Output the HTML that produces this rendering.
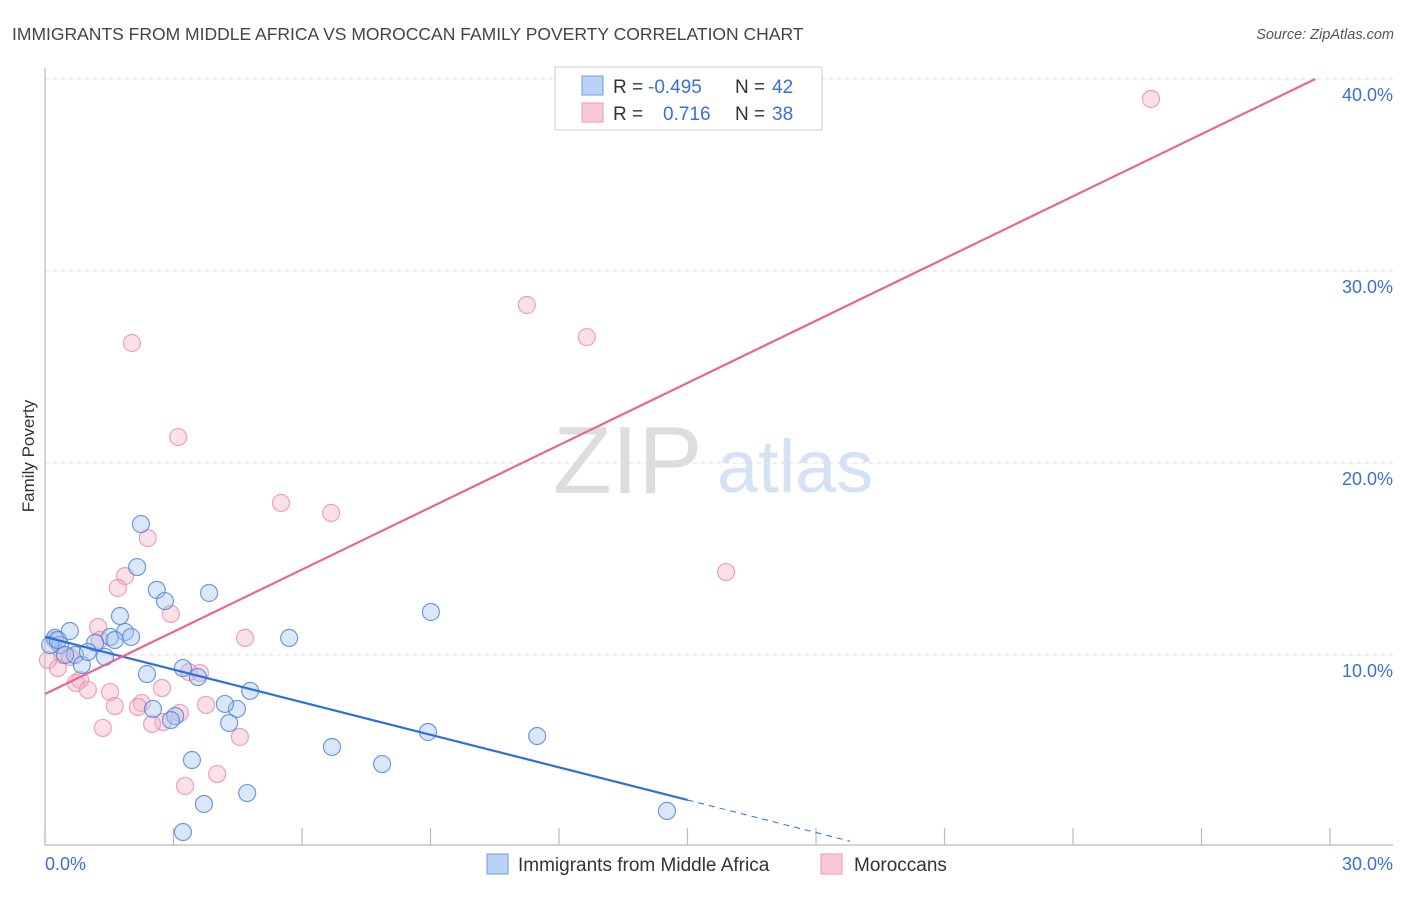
<!DOCTYPE html>
<html><head><meta charset="utf-8"><style>
body{margin:0;background:#fff;font-family:"Liberation Sans",sans-serif;}
svg text{font-family:"Liberation Sans",sans-serif;}
</style></head><body>
<svg width="1406" height="892" viewBox="0 0 1406 892">
<text x="12" y="40" font-size="17.5" fill="#444">IMMIGRANTS FROM MIDDLE AFRICA VS MOROCCAN FAMILY POVERTY CORRELATION CHART</text>
<text x="1394" y="39" font-size="14.5" fill="#555" font-style="italic" text-anchor="end">Source: ZipAtlas.com</text>
<g>
<text x="553" y="493" font-size="96" fill="#ddd" font-family="Liberation Serif,serif">ZIP</text>
<text x="717" y="492" font-size="74" fill="#d5e2f5">atlas</text>
</g>
<g id="grid"></g>
<line x1="45" y1="68" x2="45" y2="845" stroke="#bbb" stroke-width="1.2"/>
<line x1="45" y1="845" x2="1393" y2="845" stroke="#bbb" stroke-width="1.2"/>
<g id="xticks"></g>
<text x="45" y="870" font-size="18" fill="#3a6fd8">0.0%</text>
<text x="1393" y="870" font-size="18" fill="#3a6fd8" text-anchor="end">30.0%</text>
<text transform="translate(34,456) rotate(-90)" font-size="17" fill="#333" text-anchor="middle">Family Poverty</text>
<g id="points"></g>
<g id="lines"></g>
<g>
<rect x="555" y="67" width="267" height="63" fill="#fff" stroke="#ccc"/>
<rect x="582" y="76" width="21" height="19" fill="#b9d2f5" stroke="#6f9de0"/>
<text x="613" y="93" font-size="19" fill="#333">R = </text>
<text x="648" y="93" font-size="19" fill="#3a6fd8">-0.495</text>
<text x="735" y="93" font-size="19" fill="#333">N = </text>
<text x="772" y="93" font-size="19" fill="#3a6fd8">42</text>
<rect x="582" y="103" width="21" height="19" fill="#f9c8d6" stroke="#ea9ab2"/>
<text x="613" y="120" font-size="19" fill="#333">R = </text>
<text x="663" y="120" font-size="19" fill="#3a6fd8">0.716</text>
<text x="735" y="120" font-size="19" fill="#333">N = </text>
<text x="772" y="120" font-size="19" fill="#3a6fd8">38</text>
</g>
<g>
<rect x="487" y="854" width="21" height="20" fill="#b9d2f5" stroke="#6f9de0"/>
<text x="518" y="871" font-size="19" fill="#333">Immigrants from Middle Africa</text>
<rect x="821" y="854" width="21" height="20" fill="#f9c8d6" stroke="#ea9ab2"/>
<text x="854" y="871" font-size="19" fill="#333">Moroccans</text>
</g>
</svg>
<script>
const yTicks=[10,20,30,40];
const yTickLabels=["10.0%","20.0%","30.0%","40.0%"];
const xTickVals=[0,3,6,9,12,15,18,21,24,27,30];
const blueX=[2.24,2.15,2.61,2.80,3.83,1.75,1.52,1.87,2.01,0.58,0.23,0.35,0.70,1.17,1.40,0.86,1.00,2.38,3.22,3.57,5.70,9.01,4.79,4.48,4.20,2.52,3.04,2.94,4.30,6.70,8.94,11.49,7.87,3.43,4.72,3.71,3.22,14.52,0.12,0.30,0.47,1.63];
const blueY=[16.82,14.58,13.39,12.81,13.23,12.03,10.94,11.20,10.94,11.25,10.89,10.52,10.00,10.63,9.90,9.48,10.16,9.01,9.32,8.85,10.89,12.24,8.13,7.19,7.45,7.19,6.82,6.61,6.46,5.21,5.99,5.78,4.32,4.53,2.81,2.24,0.78,1.88,10.52,10.78,10.00,10.78];
const pinkX=[25.82,11.25,12.65,2.03,3.11,5.51,6.68,2.40,1.87,1.70,2.94,15.90,1.24,4.67,1.28,0.23,0.40,0.58,0.30,0.82,0.72,1.00,1.52,1.63,2.26,2.73,3.36,3.62,3.76,3.15,2.17,2.76,2.50,4.55,1.35,4.02,3.27,0.07];
const pinkY=[38.96,28.23,26.56,26.25,21.35,17.92,17.40,16.09,14.11,13.49,12.14,14.32,11.46,10.89,10.78,10.78,10.00,9.90,9.32,8.70,8.54,8.18,8.07,7.34,7.50,8.28,9.11,9.06,7.40,6.98,7.29,6.51,6.41,5.73,6.20,3.80,3.18,9.74];
const blueTrend=[10.94,-0.566];
const pinkTrend=[7.97,1.08];
const NS="http://www.w3.org/2000/svg";
function sx(v){return 45+v*(1285/30);}
function sy(v){return 847-v*19.2;}
function mk(t,a,p){const e=document.createElementNS(NS,t);for(const k in a)e.setAttribute(k,a[k]);p.appendChild(e);return e;}
const grid=document.getElementById('grid');
yTicks.forEach((v,i)=>{
 const l=mk('line',{x1:45,x2:1393,y1:sy(v),y2:sy(v),stroke:'#ddd','stroke-dasharray':'4,4'},grid);
 
 
 const t=mk('text',{x:1393,y:sy(v)+22,'font-size':18,fill:'#3a6fd8','text-anchor':'end'},grid);
 t.textContent=yTickLabels[i];
 
 
});
const xt=document.getElementById('xticks');
xTickVals.forEach(v=>{
 const l=mk('line',{x1:sx(v),x2:sx(v),y1:828,y2:845,stroke:'#bbb','stroke-width':1.2},xt);
 
 
});
const pts=document.getElementById('points');
pinkX.forEach((x,i)=>{
 const c=mk('circle',{cx:sx(x),cy:sy(pinkY[i]),r:8.5,fill:'rgba(246,178,198,0.4)',stroke:'rgba(232,140,170,0.8)','stroke-width':1.2},pts);
 
 
});
blueX.forEach((x,i)=>{
 const c=mk('circle',{cx:sx(x),cy:sy(blueY[i]),r:8.5,fill:'rgba(160,196,240,0.4)',stroke:'rgba(80,130,215,0.8)','stroke-width':1.2},pts);
 
 
});
const lg=document.getElementById('lines');
const b1=mk('line',{x1:sx(0),y1:sy(blueTrend[0]),x2:sx(15),y2:sy(blueTrend[0]+15*blueTrend[1]),stroke:'#2a6fdb','stroke-width':2.2},lg);


const b2=mk('line',{x1:sx(15),y1:sy(blueTrend[0]+15*blueTrend[1]),x2:sx(18.8),y2:sy(blueTrend[0]+18.8*blueTrend[1]),stroke:'#2a6fdb','stroke-width':1,'stroke-dasharray':'6,5'},lg);


const xe=(40-pinkTrend[0])/pinkTrend[1];
const p1=mk('line',{x1:sx(0),y1:sy(pinkTrend[0]),x2:sx(xe),y2:sy(40),stroke:'#e8668f','stroke-width':2.2},lg);


</script>
</body></html>
